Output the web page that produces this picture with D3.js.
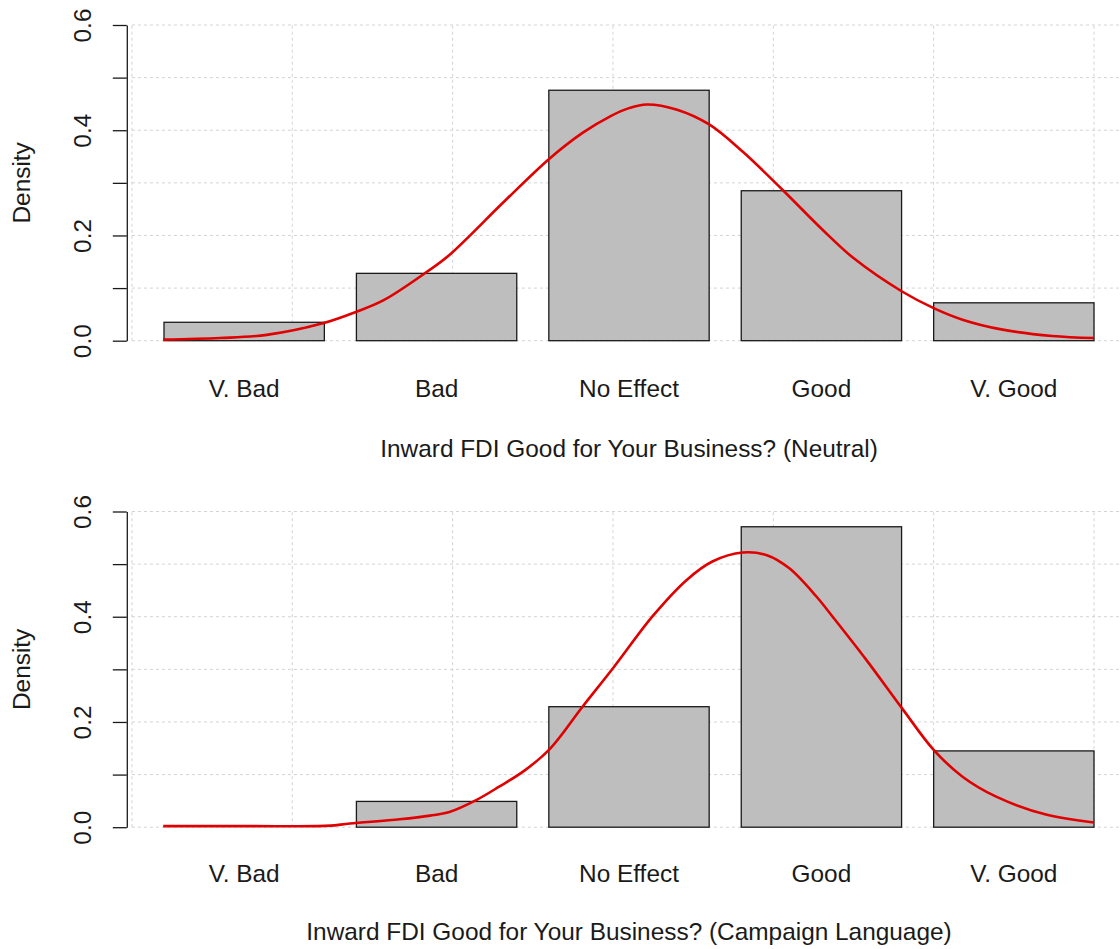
<!DOCTYPE html>
<html>
<head>
  <meta charset="utf-8">
  <script src="https://cdnjs.cloudflare.com/ajax/libs/d3/7.8.5/d3.min.js"></script>
  <style>
    body { margin: 0; background: #fff; }
    svg { display: block; font-family: "Liberation Sans", Arial, sans-serif; }
  </style>
</head>
<body>
<script>
  "use strict";

  // categories and bar heights (density)
  var categories = ["V. Bad", "Bad", "No Effect", "Good", "V. Good"];
  var neutralDensity = [0.035, 0.128, 0.476, 0.285, 0.072];
  var campaignDensity = [0.0, 0.049, 0.229, 0.571, 0.145];

  // red density curves, x in barplot units (bar i spans 0.2+1.2i .. 1.2+1.2i)
  var neutralCurveX = [0.195, 0.55, 0.84, 1.19, 1.40, 1.57, 1.84, 1.98, 2.32, 2.60, 2.81, 2.98, 3.10, 3.21,
                       3.40, 3.60, 3.81, 4.06, 4.31, 4.50, 4.80, 5.00, 5.18, 5.43, 5.74, 6.00];
  var neutralCurveY = [0.002, 0.005, 0.011, 0.033, 0.055, 0.077, 0.131, 0.163, 0.264, 0.345, 0.395, 0.426, 0.442, 0.449,
                       0.439, 0.411, 0.359, 0.286, 0.210, 0.157, 0.094, 0.062, 0.040, 0.021, 0.009, 0.005];

  var campaignCurveX = [0.195, 0.75, 1.15, 1.24, 1.36, 1.67, 1.86, 1.98, 2.15, 2.29, 2.45, 2.61, 2.81, 3.00, 3.25, 3.46,
                        3.62, 3.81, 3.96, 4.10, 4.27, 4.37, 4.58, 4.81, 5.00, 5.18, 5.39, 5.70, 6.00];
  var campaignCurveY = [0.002, 0.002, 0.002, 0.003, 0.007, 0.015, 0.022, 0.029, 0.052, 0.077, 0.108, 0.150, 0.229, 0.302, 0.402, 0.470,
                        0.505, 0.522, 0.517, 0.492, 0.438, 0.400, 0.318, 0.223, 0.147, 0.096, 0.058, 0.024, 0.009];

  var yTicks = [0, 0.1, 0.2, 0.3, 0.4, 0.5, 0.6];
  var yTickLabels = ["0.0", "", "0.2", "", "0.4", "", "0.6"];
  var xGrid = [0, 1, 2, 3, 4, 5, 6];

  var titles = ["Inward FDI Good for Your Business? (Neutral)",
                "Inward FDI Good for Your Business? (Campaign Language)"];

  /*
    layout
  */
  var W = 1120, H = 949;
  var barWidth = 1, barSpace = 0.2;
  var fontSize = "24.4px";

  var svg = d3.select("body").append("svg")
    .attr("width", W)
    .attr("height", H);

  svg.append("rect").attr("width", W).attr("height", H).attr("fill", "#fff");

  var x = d3.scaleLinear().domain([0.2, 6.0]).range([164, 1094]);

  var panels = [
    { top: 25, bottom: 340.7, bars: neutralDensity, cx: neutralCurveX, cy: neutralCurveY,
      title: titles[0], catY: 397, titleY: 457 },
    { top: 511.5, bottom: 827.2, bars: campaignDensity, cx: campaignCurveX, cy: campaignCurveY,
      title: titles[1], catY: 882, titleY: 940 }
  ];

  panels.forEach(function (p) {
    var y = d3.scaleLinear().domain([0, 0.6]).range([p.bottom, p.top]);
    var g = svg.append("g");
    var axisX = x(-0.032);

    // dotted grid
    var grid = g.append("g")
      .attr("stroke", "#d3d3d3")
      .attr("stroke-width", 1)
      .attr("stroke-dasharray", "3,3");
    grid.selectAll("line.h")
      .data(yTicks)
      .enter().append("line")
      .attr("x1", x(0)).attr("x2", W)
      .attr("y1", function (d) { return y(d); })
      .attr("y2", function (d) { return y(d); });
    grid.selectAll("line.v")
      .data(xGrid)
      .enter().append("line")
      .attr("x1", function (d) { return x(d); })
      .attr("x2", function (d) { return x(d); })
      .attr("y1", y(0)).attr("y2", y(0.6));

    // bars
    g.selectAll("rect.bar")
      .data(p.bars)
      .enter().append("rect")
      .attr("class", "bar")
      .attr("x", function (d, i) { return x(barSpace + i * (barWidth + barSpace)); })
      .attr("width", x(barWidth) - x(0))
      .attr("y", function (d) { return y(d); })
      .attr("height", function (d) { return y(0) - y(d); })
      .attr("fill", "#bebebe")
      .attr("stroke", "#1a1a1a")
      .attr("stroke-width", 1.3);

    // density curve
    var pts = p.cx.map(function (v, i) { return [v, p.cy[i]]; });
    g.append("path")
      .datum(pts)
      .attr("fill", "none")
      .attr("stroke", "#e00000")
      .attr("stroke-width", 2.6)
      .attr("stroke-linejoin", "round")
      .attr("d", d3.line()
        .x(function (d) { return x(d[0]); })
        .y(function (d) { return y(d[1]); })
        .curve(d3.curveCatmullRom.alpha(0.5)));

    // y axis
    var yAxis = d3.axisLeft(y)
      .tickValues(yTicks)
      .tickSize(14)
      .tickSizeOuter(0)
      .tickFormat(function (d, i) { return yTickLabels[i]; });
    var ax = g.append("g")
      .attr("transform", "translate(" + axisX + ",0)")
      .call(yAxis);
    ax.select(".domain").attr("stroke", "#1a1a1a").attr("stroke-width", 1.3);
    ax.selectAll(".tick line").attr("stroke", "#1a1a1a").attr("stroke-width", 1.3);
    ax.selectAll(".tick text")
      .attr("x", null)
      .attr("dy", null)
      .attr("text-anchor", "middle")
      .attr("transform", "translate(" + (91 - axisX) + ",0) rotate(-90)")
      .attr("fill", "#1a1a1a")
      .style("font-size", fontSize)
      .style("font-family", "'Liberation Sans', Arial, sans-serif");

    g.append("text")
      .attr("transform", "translate(30," + ((p.top + p.bottom) / 2) + ") rotate(-90)")
      .attr("text-anchor", "middle")
      .attr("fill", "#1a1a1a")
      .style("font-size", fontSize)
      .text("Density");

    // category labels
    g.selectAll("text.cat")
      .data(categories)
      .enter().append("text")
      .attr("class", "cat")
      .attr("x", function (d, i) { return x(barSpace + i * (barWidth + barSpace) + barWidth / 2); })
      .attr("y", p.catY)
      .attr("text-anchor", "middle")
      .attr("fill", "#1a1a1a")
      .style("font-size", fontSize)
      .text(function (d) { return d; });

    g.append("text")
      .attr("x", x(3.1))
      .attr("y", p.titleY)
      .attr("text-anchor", "middle")
      .attr("fill", "#1a1a1a")
      .style("font-size", fontSize)
      .text(p.title);
  });
</script>
</body>
</html>
